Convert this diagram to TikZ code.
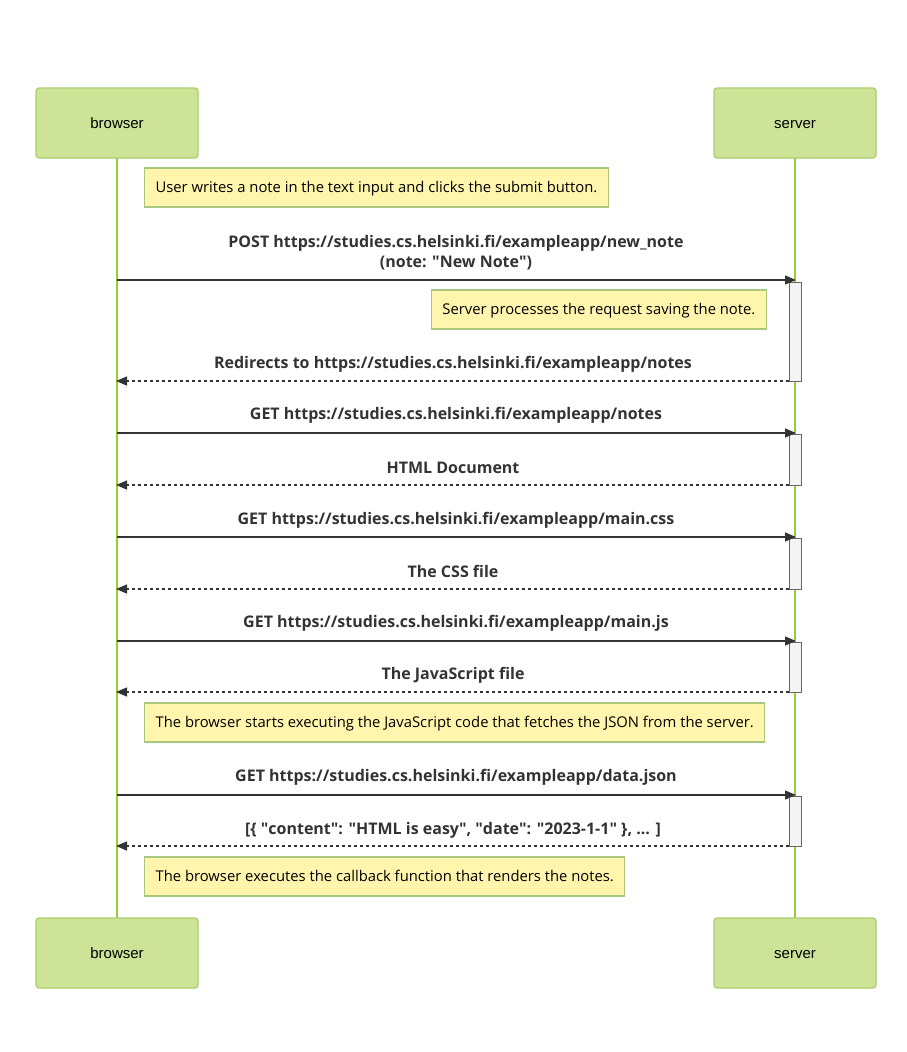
\documentclass[tikz,border=0pt]{standalone}
\usepackage{fontspec}
\setmainfont{Open Sans}
\newfontfamily\actorfont{Liberation Sans}
\usetikzlibrary{arrows.meta}
\definecolor{actfill}{HTML}{CDE498}
\definecolor{actline}{HTML}{A9CF6A}
\definecolor{lifeline}{HTML}{9ACD32}
\definecolor{notefill}{HTML}{FFF5AD}
\definecolor{noteline}{HTML}{A6C77C}
\definecolor{msg}{HTML}{333333}
\definecolor{actv}{HTML}{F4F4F4}
\newcommand{\q}{\textquotedbl}
\tikzset{
  actorbox/.style={draw=actline, fill=actfill, line width=1.2pt, rounded corners=3pt, minimum width=162pt, minimum height=70pt, text height=12pt, text depth=1pt, font=\actorfont\fontsize{15}{17}\selectfont, text=black},
  notebox/.style={draw=noteline, fill=notefill, line width=1.2pt, minimum height=39pt, inner xsep=11pt, text height=11pt, text depth=2pt, font=\fontsize{14.8}{17}\selectfont, text=black},
  lifel/.style={draw=lifeline, line width=1.5pt},
  req/.style={draw=msg, line width=1.3pt, -{Triangle[length=11pt,width=9pt]}},
  resp/.style={draw=msg, line width=1.3pt, dash pattern=on 3pt off 3pt, -{Triangle[length=11pt,width=9pt]}},
  msglabel/.style={font=\bfseries\fontsize{16}{20}\selectfont, text=msg, align=center},
  actbox/.style={draw=black!60, fill=actv, line width=1pt},
}
\begin{document}
\begin{tikzpicture}[x=1pt,y=-1pt]
\useasboundingbox (0,0) rectangle (906,1052);
% lifelines
\coordinate (bt) at (117,158); \coordinate (bb) at (117,918);
\coordinate (st) at (795,158); \coordinate (sb) at (795,918);
\draw[lifel] (bt) -- (bb);
\draw[lifel] (st) -- (sb);
% actors
\node[actorbox] (browserT) at (117,123) {browser};
\node[actorbox] (serverT) at (795,123) {server};
\node[actorbox] (browserB) at (117,953) {browser};
\node[actorbox] (serverB) at (795,953) {server};
% activation boxes
\foreach \a/\b [count=\i] in {282/381,434/485,538/589,642/692,796/846}{
  \draw[actbox] (789,\a) rectangle (801,\b);
}
% note 1
\node[notebox, anchor=west] (n1) at (144,187.5) {User writes a note in the text input and clicks the submit button.};
% message 1
\coordinate (b1) at (117,280); \coordinate (s1) at (796,280);
\draw[req] (b1) -- (s1);
\node[msglabel] (l1) at (456,253) {POST https://studies.cs.helsinki.fi/exampleapp/new\_note\\(note: \q New Note\q)};
\node[notebox, anchor=east] (n2) at (767,309.5) {Server processes the request saving the note.};
\coordinate (s2) at (789,381); \coordinate (b2) at (116,381);
\draw[resp] (s2) -- (b2);
\node[msglabel] (l2) at (453,364) {Redirects to https://studies.cs.helsinki.fi/exampleapp/notes};
% GET notes
\coordinate (b3) at (117,433); \coordinate (s3) at (796,433);
\draw[req] (b3) -- (s3);
\node[msglabel] (l3) at (456,415) {GET https://studies.cs.helsinki.fi/exampleapp/notes};
\coordinate (s4) at (789,485); \coordinate (b4) at (116,485);
\draw[resp] (s4) -- (b4);
\node[msglabel] (l4) at (453,468) {HTML Document};
% GET css
\coordinate (b5) at (117,537); \coordinate (s5) at (796,537);
\draw[req] (b5) -- (s5);
\node[msglabel] (l5) at (456,520) {GET https://studies.cs.helsinki.fi/exampleapp/main.css};
\coordinate (s6) at (789,589); \coordinate (b6) at (116,589);
\draw[resp] (s6) -- (b6);
\node[msglabel] (l6) at (453,571) {The CSS file};
% GET js
\coordinate (b7) at (117,641); \coordinate (s7) at (796,641);
\draw[req] (b7) -- (s7);
\node[msglabel] (l7) at (456,623) {GET https://studies.cs.helsinki.fi/exampleapp/main.js};
\coordinate (s8) at (789,692); \coordinate (b8) at (116,692);
\draw[resp] (s8) -- (b8);
\node[msglabel] (l8) at (453,675) {The JavaScript file};
% note 3
\node[notebox, anchor=west] (n3) at (144,722.5) {The browser starts executing the JavaScript code that fetches the JSON from the server.};
% GET json
\coordinate (b9) at (117,795); \coordinate (s9) at (796,795);
\draw[req] (b9) -- (s9);
\node[msglabel] (l9) at (456,777) {GET https://studies.cs.helsinki.fi/exampleapp/data.json};
\coordinate (s10) at (789,846); \coordinate (b10) at (116,846);
\draw[resp] (s10) -- (b10);
\node[msglabel] (l10) at (453,830) {[\{ \q content\q: \q HTML is easy\q, \q date\q: \q 2023-1-1\q\ \}, ... ]};
% note 4
\node[notebox, anchor=west] (n4) at (144,876.5) {The browser executes the callback function that renders the notes.};
\end{tikzpicture}
\end{document}
